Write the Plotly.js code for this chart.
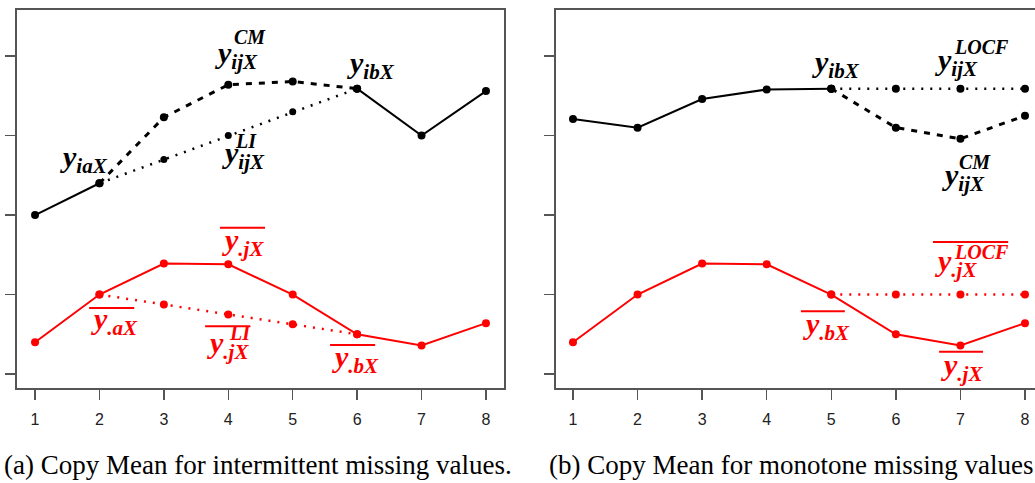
<!DOCTYPE html>
<html>
<head>
<meta charset="utf-8">
<script src="https://cdn.plot.ly/plotly-3.0.1.min.js"></script>
<style>html,body{margin:0;padding:0;background:#fff;}#chart{width:1035px;height:483px;}</style>
</head>
<body>
<div id="chart"></div>
<script>
// ---- data ----
const timePoints = [1, 2, 3, 4, 5, 6, 7, 8];
const tickLabels = ['1', '2', '3', '4', '5', '6', '7', '8'];
// (a) intermittent missing values
const leftObserved   = [3.00, 3.40, null, null, null, 4.59, 4.00, 4.56];
const leftCopyMean   = [null, 3.40, 4.23, 4.64, 4.68, 4.59, null, null];
const leftLinInterp  = [null, 3.40, 3.70, 4.00, 4.30, 4.59, null, null];
const meanTrajectory = [1.40, 2.00, 2.39, 2.38, 2.00, 1.50, 1.36, 1.64];
const leftMeanLI     = [null, 2.00, 1.875, 1.75, 1.625, 1.50, null, null];
// (b) monotone missing values
const rightObserved  = [4.21, 4.10, 4.46, 4.58, 4.59, null, null, null];
const rightLOCF      = [null, null, null, null, 4.59, 4.59, 4.59, 4.59];
const rightCopyMean  = [null, null, null, null, 4.59, 4.10, 3.96, 4.25];
const rightMeanLOCF  = [null, null, null, null, 2.00, 2.00, 2.00, 2.00];
const captions = ['(a) Copy Mean for intermittent missing values.', '(b) Copy Mean for monotone missing values'];

const BLACK = '#000000', RED = '#ff0000';

function tr(y, color, dash, width, msize, xa, ya) {
  return {
    x: timePoints, y: y, type: 'scatter', mode: 'lines+markers',
    xaxis: xa, yaxis: ya, connectgaps: false, hoverinfo: 'skip',
    line: {color: color, dash: dash, width: width},
    marker: {color: color, size: msize, symbol: 'circle'}
  };
}

const traces = [
  tr(leftCopyMean, BLACK, '6px,7px', 3, 8, 'x', 'y'),
  tr(leftLinInterp, BLACK, '2px,7px', 2.5, 7, 'x', 'y'),
  tr(leftObserved, BLACK, 'solid', 2, 8, 'x', 'y'),
  tr(leftMeanLI, RED, '2px,7px', 2.5, 8, 'x', 'y'),
  tr(meanTrajectory, RED, 'solid', 2, 8, 'x', 'y'),
  tr(rightCopyMean, BLACK, '6px,7px', 3, 8, 'x2', 'y2'),
  tr(rightLOCF, BLACK, '2px,7px', 2.5, 8, 'x2', 'y2'),
  tr(rightObserved, BLACK, 'solid', 2, 8, 'x2', 'y2'),
  tr(rightMeanLOCF, RED, '2px,7px', 2.5, 8, 'x2', 'y2'),
  tr(meanTrajectory, RED, 'solid', 2, 8, 'x2', 'y2')
];

// math labels: main "y" with subscript, optional superscript, optional overline
const labels = [
  {xr:'x', yr:'y', x:1.36, y:3.70, sub:'iaX', color:BLACK},
  {xr:'x', yr:'y', x:3.76, y:5.02, sub:'ijX', sup:'CM', sx:4.06, sy:5.24, color:BLACK},
  {xr:'x', yr:'y', x:5.81, y:4.89, sub:'ibX', color:BLACK},
  {xr:'x', yr:'y', x:3.87, y:3.75, sub:'ijX', sup:'LI', sx:4.07, sy:3.93, color:BLACK},
  {xr:'x', yr:'y', x:3.87, y:2.66, sub:'.jX', color:RED, bar:[3.87, 4.57, 2.84]},
  {xr:'x', yr:'y', x:1.84, y:1.67, sub:'.aX', color:RED, bar:[1.84, 2.54, 1.83]},
  {xr:'x', yr:'y', x:3.64, y:1.37, sub:'.jX', sup:'LI', sx:3.98, sy:1.51, color:RED, bar:[3.64, 4.34, 1.60]},
  {xr:'x', yr:'y', x:5.58, y:1.19, sub:'.bX', color:RED, bar:[5.58, 6.28, 1.365]},
  {xr:'x2', yr:'y2', x:4.67, y:4.90, sub:'ibX', color:BLACK},
  {xr:'x2', yr:'y2', x:6.575, y:4.93, sub:'ijX', sup:'LOCF', sx:6.87, sy:5.11, color:BLACK},
  {xr:'x2', yr:'y2', x:6.68, y:3.48, sub:'ijX', sup:'CM', sx:6.95, sy:3.67, color:BLACK},
  {xr:'x2', yr:'y2', x:6.575, y:2.40, sub:'.jX', sup:'LOCF', sx:6.87, sy:2.53, color:RED, bar:[6.575, 7.74, 2.66]},
  {xr:'x2', yr:'y2', x:4.53, y:1.61, sub:'.bX', color:RED, bar:[4.53, 5.21, 1.79]},
  {xr:'x2', yr:'y2', x:6.67, y:1.09, sub:'.jX', color:RED, bar:[6.67, 7.35, 1.28]}
];

const FONT = 'Liberation Serif, Times New Roman, serif';
const annotations = [];
const shapes = [];
labels.forEach(l => {
  annotations.push({
    xref: l.xr, yref: l.yr, x: l.x, y: l.y, xanchor: 'left', yanchor: 'middle',
    showarrow: false, text: '<b><i>y<sub>' + l.sub + '</sub></i></b>',
    font: {family: FONT, size: 30, color: l.color}
  });
  if (l.sup) annotations.push({
    xref: l.xr, yref: l.yr, x: l.sx, y: l.sy, xanchor: 'left', yanchor: 'middle',
    showarrow: false, text: '<b><i>' + l.sup + '</i></b>',
    font: {family: FONT, size: 20, color: l.color}
  });
  if (l.bar) shapes.push({
    type: 'line', xref: l.xr, yref: l.yr, x0: l.bar[0], x1: l.bar[1], y0: l.bar[2], y1: l.bar[2],
    line: {color: l.color, width: 2}
  });
});
annotations.push({xref:'paper', yref:'paper', x:258/1035, y:1-465/483, xanchor:'center', yanchor:'middle',
  showarrow:false, text: captions[0], font:{family: FONT, size: 27, color:'#000'}});
annotations.push({xref:'paper', yref:'paper', x:547/1035, y:1-465/483, xanchor:'left', yanchor:'middle',
  showarrow:false, text: captions[1], font:{family: FONT, size: 27, color:'#000'}});

const FRAME = '#555555';
function xax(domain, range) {
  return {
    domain: domain, range: range, tickvals: timePoints, ticktext: tickLabels,
    showline: true, mirror: true, linecolor: FRAME, linewidth: 2,
    ticks: 'outside', ticklen: 10, tickwidth: 1.5, tickcolor: FRAME,
    showgrid: false, zeroline: false, fixedrange: true, ticklabelstandoff: 6,
    tickfont: {family: 'Liberation Sans, Arial, sans-serif', size: 16, color: '#222'}
  };
}
function yax(anchor, mirror) {
  return {
    domain: [1 - 388/483, 1 - 10/483], range: [0.824, 5.58], anchor: anchor,
    tickvals: [1, 2, 3, 4, 5], showticklabels: false,
    showline: true, mirror: mirror, linecolor: FRAME, linewidth: 2,
    ticks: 'outside', ticklen: 10, tickwidth: 1.5, tickcolor: FRAME,
    showgrid: false, zeroline: false, fixedrange: true
  };
}

const layout = {
  width: 1035, height: 483, showlegend: false,
  margin: {l: 0, r: 0, t: 0, b: 0},
  paper_bgcolor: '#ffffff', plot_bgcolor: '#ffffff',
  xaxis: Object.assign(xax([17/1035, 504/1035], [0.72, 8.28]), {anchor: 'y'}),
  yaxis: yax('x', true),
  xaxis2: Object.assign(xax([556/1035, 1], [0.737, 8.155]), {anchor: 'y2'}),
  yaxis2: yax('x2', false),
  annotations: annotations, shapes: shapes
};

Plotly.newPlot('chart', traces, layout, {staticPlot: true, displayModeBar: false});
</script>
</body>
</html>
